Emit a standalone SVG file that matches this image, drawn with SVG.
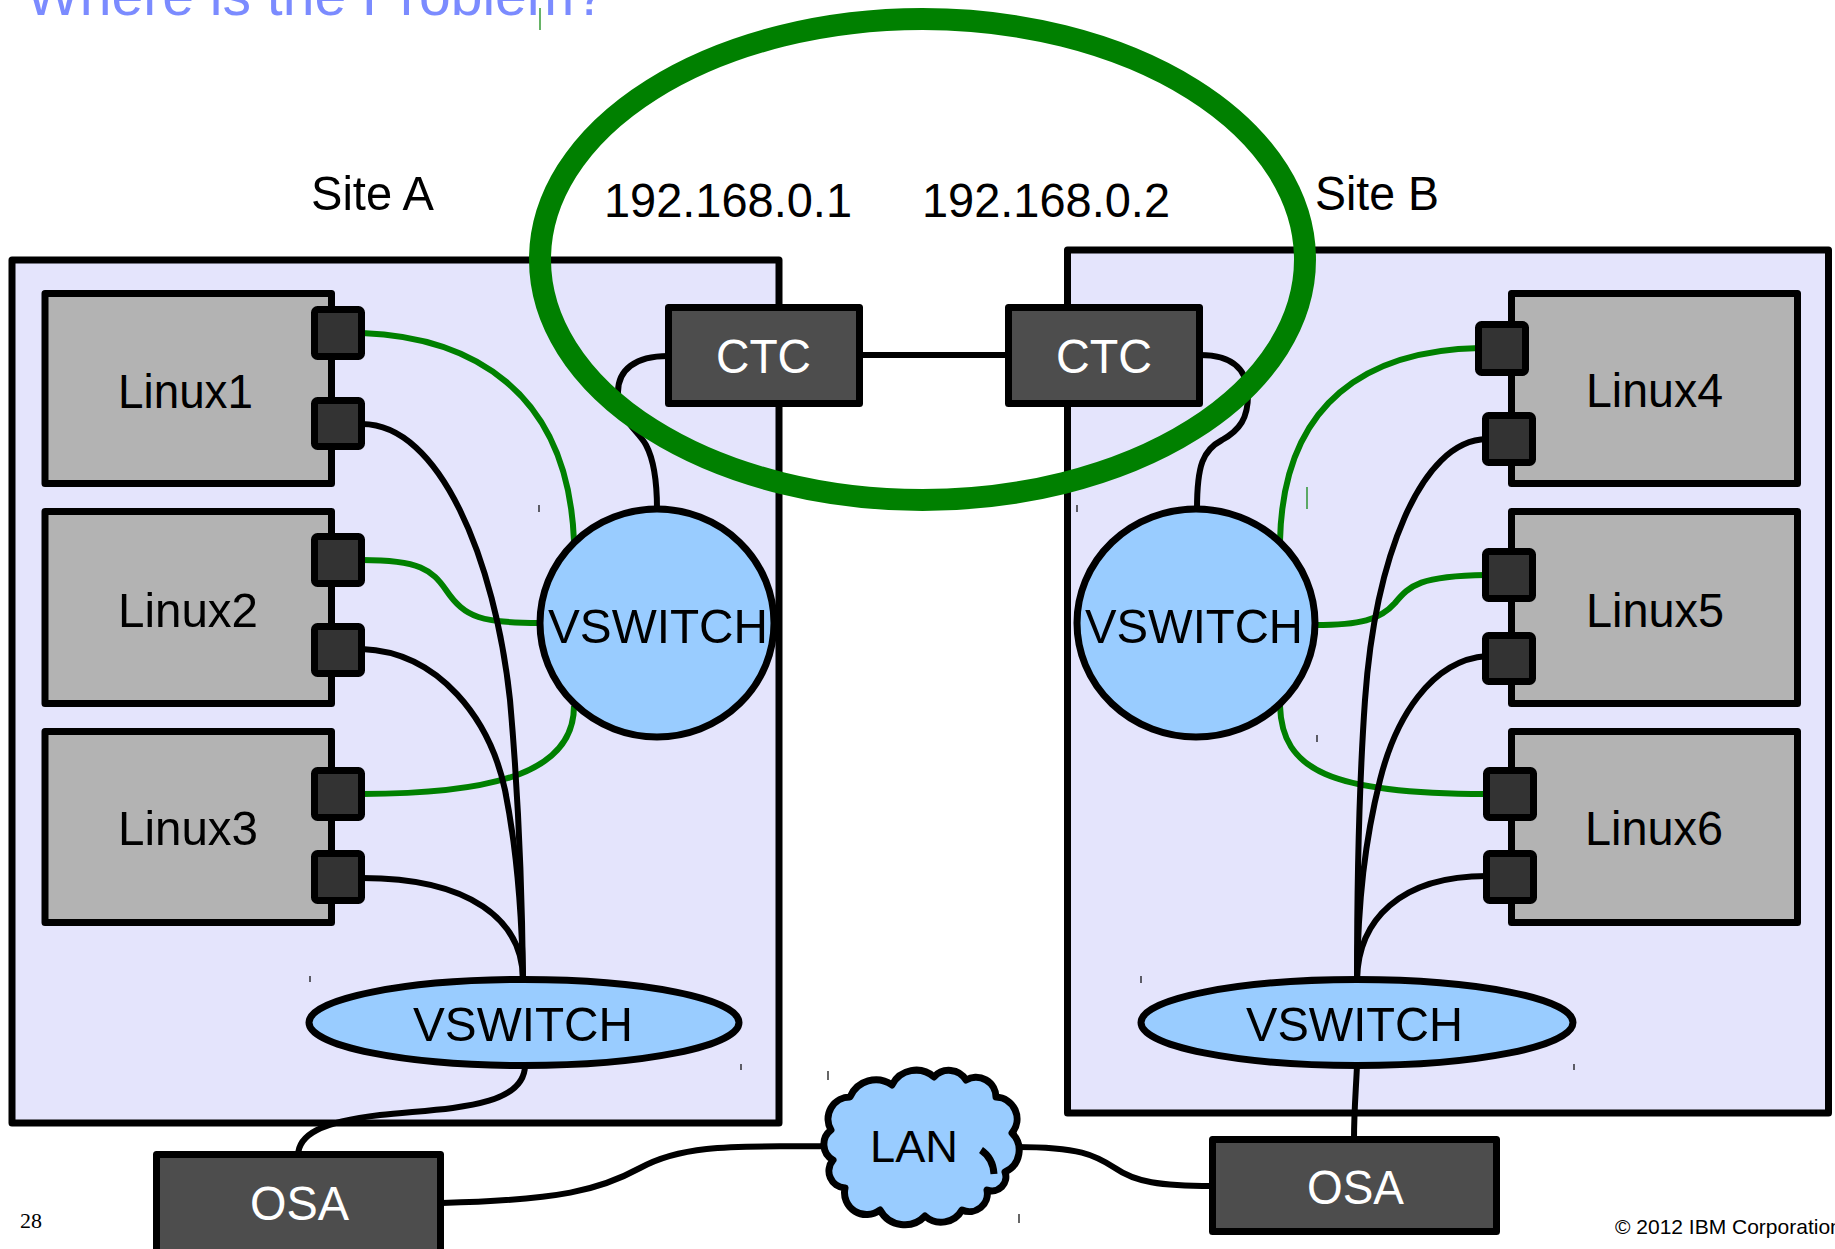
<svg xmlns="http://www.w3.org/2000/svg" width="1835" height="1249" viewBox="0 0 1835 1249">
<style>
text{font-family:"Liberation Sans",Arial,sans-serif;}
text.serif{font-family:"Liberation Serif","Times New Roman",serif;}
.site{fill:#e4e4fc;stroke:#000;stroke-width:7;stroke-linejoin:round;}
.linux{fill:#b3b3b3;stroke:#000;stroke-width:7;stroke-linejoin:round;}
.port{fill:#333;stroke:#000;stroke-width:7;stroke-linejoin:round;}
.dev{fill:#4d4d4d;stroke:#000;stroke-width:7;stroke-linejoin:round;}
.vs{fill:#99ccff;stroke:#000;stroke-width:7;}
.lbl{font-size:49px;fill:#000;}
.wlbl{font-size:49px;fill:#fff;}
.blk{fill:none;stroke:#000;stroke-width:6;}
.grn{fill:none;stroke:#008000;stroke-width:6;}
.tick{stroke:#000;stroke-width:1.2;}
</style>

<text x="26" y="15" font-size="58" fill="#7b8bff" textLength="580" lengthAdjust="spacingAndGlyphs">Where is the Problem?</text>
<line x1="540" y1="8" x2="540" y2="30" stroke="#008000" stroke-width="1.2"/>

<g id="site-a">
<rect class="site" x="12" y="260" width="767" height="863"/>
<text class="lbl" x="311" y="210" textLength="123" lengthAdjust="spacingAndGlyphs">Site A</text>
</g>
<g id="site-b">
<rect class="site" x="1067.5" y="250" width="761" height="863"/>
<text class="lbl" x="1315" y="210" textLength="124" lengthAdjust="spacingAndGlyphs">Site B</text>
</g>

<g id="connectors">
<line class="blk" x1="860" y1="355" x2="1010" y2="355"/>
<path class="blk" d="M 668 356 C 635 356 618 370 618 392 C 618 420 638 430 646 445 C 654 460 657 480 657 509"/>
<path class="blk" d="M 1200 355 C 1235 355 1248 372 1248 395 C 1248 418 1240 430 1222 440 C 1203 450 1197 465 1197 509"/>
<path class="grn" d="M 362 333 C 470 337 568 390 574 541"/>
<path class="grn" d="M 362 560 C 420 560 432 570 446 590 C 465 618 482 623 540 623"/>
<path class="grn" d="M 362 794 C 500 794 574 770 574 706"/>
<path class="blk" d="M 362 424 C 440 424 495 560 510 700 C 518 790 522 880 523 980"/>
<path class="blk" d="M 362 649 C 440 652 490 720 505 790 C 517 850 522 920 523 980"/>
<path class="blk" d="M 362 878 C 470 878 523 920 523 980"/>
<path class="grn" d="M 1480 348 C 1370 350 1283 400 1280 541"/>
<path class="grn" d="M 1486 575 C 1420 576 1410 585 1395 603 C 1380 620 1360 625 1315 625"/>
<path class="grn" d="M 1486 794 C 1330 794 1282 770 1280 706"/>
<path class="blk" d="M 1487 439 C 1420 440 1375 560 1365 700 C 1358 800 1357 900 1357 980"/>
<path class="blk" d="M 1487 656 C 1430 660 1395 720 1380 780 C 1365 840 1358 900 1357 980"/>
<path class="blk" d="M 1487 876 C 1400 876 1358 920 1357 980"/>
<path class="blk" d="M 525 1065 C 525 1110 440 1108 380 1115 C 320 1122 298 1135 298 1156"/>
<path class="blk" d="M 1357 1065 C 1356 1090 1354 1110 1354 1140"/>
<path class="blk" d="M 442 1203 C 560 1200 600 1190 640 1168 C 690 1140 760 1148 830 1146"/>
<path class="blk" d="M 1015 1147 C 1080 1147 1095 1155 1115 1168 C 1135 1182 1160 1186 1212 1186"/>
</g>

<g id="linux1">
<rect class="linux" x="45" y="293.5" width="286.5" height="190"/>
<rect class="port" x="314.5" y="309.5" width="47" height="47" rx="3"/>
<rect class="port" x="314.5" y="400.5" width="47" height="46" rx="3"/>
<text class="lbl" x="118" y="408" textLength="135" lengthAdjust="spacingAndGlyphs">Linux1</text>
</g>
<g id="linux2">
<rect class="linux" x="45" y="511.5" width="286.5" height="192"/>
<rect class="port" x="314.5" y="536.5" width="47" height="47" rx="3"/>
<rect class="port" x="314.5" y="626.5" width="47" height="47" rx="3"/>
<text class="lbl" x="118" y="627" textLength="140" lengthAdjust="spacingAndGlyphs">Linux2</text>
</g>
<g id="linux3">
<rect class="linux" x="45" y="731.5" width="286.5" height="191"/>
<rect class="port" x="314.5" y="770.5" width="47" height="47" rx="3"/>
<rect class="port" x="314.5" y="853.5" width="47" height="47" rx="3"/>
<text class="lbl" x="118" y="845" textLength="140" lengthAdjust="spacingAndGlyphs">Linux3</text>
</g>
<g id="linux4">
<rect class="linux" x="1511.5" y="293.5" width="286" height="190"/>
<rect class="port" x="1478.5" y="324.5" width="47" height="48" rx="3"/>
<rect class="port" x="1485.5" y="415.5" width="47" height="47" rx="3"/>
<text class="lbl" x="1586" y="407" textLength="137" lengthAdjust="spacingAndGlyphs">Linux4</text>
</g>
<g id="linux5">
<rect class="linux" x="1511.5" y="511.5" width="286" height="192"/>
<rect class="port" x="1485.5" y="551.5" width="47" height="47" rx="3"/>
<rect class="port" x="1485.5" y="635.5" width="47" height="46" rx="3"/>
<text class="lbl" x="1586" y="627" textLength="138" lengthAdjust="spacingAndGlyphs">Linux5</text>
</g>
<g id="linux6">
<rect class="linux" x="1511.5" y="731.5" width="286" height="191"/>
<rect class="port" x="1486.5" y="770.5" width="47" height="47" rx="3"/>
<rect class="port" x="1486.5" y="853.5" width="47" height="47" rx="3"/>
<text class="lbl" x="1585" y="845" textLength="138" lengthAdjust="spacingAndGlyphs">Linux6</text>
</g>

<g id="ctc-a">
<rect class="dev" x="668.5" y="307.5" width="191" height="96"/>
<text class="wlbl" x="716" y="373" textLength="95" lengthAdjust="spacingAndGlyphs">CTC</text>
</g>
<g id="ctc-b">
<rect class="dev" x="1008.5" y="307.5" width="191" height="96"/>
<text class="wlbl" x="1056" y="373" textLength="96" lengthAdjust="spacingAndGlyphs">CTC</text>
</g>

<g id="vswitch-a">
<ellipse class="vs" cx="657" cy="623" rx="117" ry="114"/>
<text class="lbl" x="548" y="643" textLength="220" lengthAdjust="spacingAndGlyphs">VSWITCH</text>
</g>
<g id="vswitch-b">
<ellipse class="vs" cx="1196" cy="623" rx="119" ry="114"/>
<text class="lbl" x="1085" y="643" textLength="218" lengthAdjust="spacingAndGlyphs">VSWITCH</text>
</g>
<g id="vswitch-a-osa">
<ellipse class="vs" cx="524" cy="1022.5" rx="215" ry="43"/>
<text class="lbl" x="413" y="1041" textLength="220" lengthAdjust="spacingAndGlyphs">VSWITCH</text>
</g>
<g id="vswitch-b-osa">
<ellipse class="vs" cx="1357" cy="1022.5" rx="216" ry="43"/>
<text class="lbl" x="1246" y="1041" textLength="217" lengthAdjust="spacingAndGlyphs">VSWITCH</text>
</g>

<g id="osa-a">
<rect class="dev" x="156.5" y="1154.5" width="284" height="120"/>
<text class="wlbl" x="250" y="1220" textLength="99" lengthAdjust="spacingAndGlyphs">OSA</text>
</g>
<g id="osa-b">
<rect class="dev" x="1212.5" y="1139.5" width="284" height="92"/>
<text class="wlbl" x="1307" y="1204" textLength="97" lengthAdjust="spacingAndGlyphs">OSA</text>
</g>

<g id="lan">
<path fill="#99ccff" stroke="#000" stroke-width="7" stroke-linejoin="round" d="M 831 1130 A 22 22 0 0 1 850 1097 A 28 28 0 0 1 892 1085 A 27 27 0 0 1 934 1077 A 20 20 0 0 1 966 1080 A 20 20 0 0 1 996 1097 A 22 22 0 0 1 1012 1133 A 24 24 0 0 1 1005 1172 A 14 14 0 0 1 987 1190 A 18 18 0 0 1 962 1210 A 24 24 0 0 1 925 1216 A 28 28 0 0 1 880 1210 A 22 22 0 0 1 845 1188 A 17 17 0 0 1 833 1160 A 18 18 0 0 1 831 1130 Z"/>
<path fill="none" stroke="#000" stroke-width="7" d="M 981 1150 Q 993 1158 994 1174"/>
<text x="870" y="1162" font-size="45" fill="#000" textLength="88" lengthAdjust="spacingAndGlyphs">LAN</text>
</g>

<g id="highlight">
<ellipse cx="922.5" cy="259.5" rx="382.5" ry="240.5" fill="none" stroke="#008000" stroke-width="22"/>
</g>

<text class="lbl" x="604" y="217" textLength="248" lengthAdjust="spacingAndGlyphs">192.168.0.1</text>
<text class="lbl" x="922" y="217" textLength="248" lengthAdjust="spacingAndGlyphs">192.168.0.2</text>

<g id="ticks">
<line class="tick" x1="539" y1="505" x2="539" y2="512"/>
<line class="tick" x1="310" y1="976" x2="310" y2="982"/>
<line class="tick" x1="741" y1="1064" x2="741" y2="1070"/>
<line class="tick" x1="828" y1="1071" x2="828" y2="1080"/>
<line class="tick" x1="1019" y1="1214" x2="1019" y2="1223"/>
<line class="tick" x1="1141" y1="976" x2="1141" y2="983"/>
<line class="tick" x1="1574" y1="1064" x2="1574" y2="1070"/>
<line class="tick" x1="1317" y1="735" x2="1317" y2="742"/>
<line class="tick" x1="1077" y1="505" x2="1077" y2="512"/>
<line x1="1307" y1="487" x2="1307" y2="509" stroke="#008000" stroke-width="1.2"/>
</g>

<text class="serif" x="20" y="1228" font-size="22" fill="#000">28</text>
<text x="1615" y="1234" font-size="21" fill="#000">© 2012 IBM Corporation</text>
</svg>
